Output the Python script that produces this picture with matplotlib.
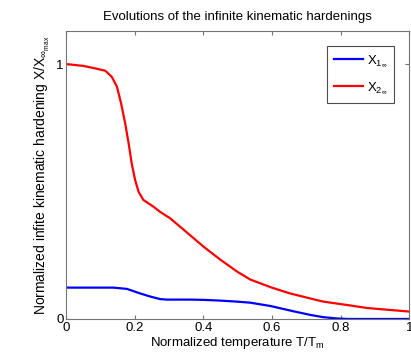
import numpy as np
import matplotlib
matplotlib.use("Agg")
from matplotlib import pyplot as plt

plt.rcParams["font.family"] = ["Liberation Sans", "DejaVu Sans"]
plt.rcParams["mathtext.fontset"] = "custom"
plt.rcParams["mathtext.rm"] = "Liberation Sans"
plt.rcParams["mathtext.it"] = "Liberation Sans"

# normalized temperature T/Tm
t_red = [0.0, 0.05, 0.085, 0.114, 0.133, 0.148, 0.160, 0.172, 0.182, 0.191,
         0.201, 0.211, 0.225, 0.255, 0.274, 0.303, 0.332, 0.40, 0.45, 0.498,
         0.536, 0.595, 0.634, 0.653, 0.731, 0.75, 0.828, 0.877, 1.0]
x2_inf = [1.0, 0.993, 0.983, 0.974, 0.95, 0.911, 0.846, 0.767, 0.689, 0.61,
          0.545, 0.499, 0.467, 0.44, 0.42, 0.395, 0.362, 0.284, 0.232, 0.186,
          0.155, 0.125, 0.108, 0.10, 0.074, 0.068, 0.053, 0.043, 0.029]

t_blue = [0.0, 0.138, 0.177, 0.216, 0.245, 0.274, 0.293, 0.362, 0.40, 0.45,
          0.498, 0.536, 0.595, 0.653, 0.711, 0.75, 0.789, 0.82, 1.0]
x1_inf = [0.123, 0.123, 0.118, 0.10, 0.088, 0.078, 0.076, 0.076, 0.075, 0.072,
          0.068, 0.064, 0.051, 0.033, 0.016, 0.007, 0.002, 0.0, 0.0]

fig = plt.figure(figsize=(4.11, 3.56), dpi=100)
ax = fig.add_axes([0.161, 0.104, 0.835, 0.809])

ax.plot(t_blue, x1_inf, color="#0000ff", lw=1.6, label=r"X$_{1_\infty}$",
        solid_joinstyle="round")
ax.plot(t_red, x2_inf, color="#ff0000", lw=1.6, label=r"X$_{2_\infty}$",
        solid_joinstyle="round")

ax.set_xlim(0, 1)
ax.set_ylim(0, 1.13)
ax.set_xticks([0, 0.2, 0.4, 0.6, 0.8, 1])
ax.set_xticklabels(["0", "0.2", "0.4", "0.6", "0.8", "1"])
ax.set_yticks([0, 1])
ax.set_yticklabels(["0", "1"])
ax.tick_params(direction="in", top=True, right=True, length=3, labelsize=9.5,
               color="0.45", pad=2)
for s in ax.spines.values():
    s.set_color("0.45")

ax.set_title("Evolutions of the infinite kinematic hardenings", fontsize=9.5, pad=8)
ax.set_xlabel(r"Normalized temperature T/T$_{\rm m}$", fontsize=9.5, labelpad=1)
ax.set_ylabel(r"Normalized infite kinematic hardening X/X$_{\infty_{\rm max}}$",
              fontsize=10, labelpad=3)

leg = ax.legend(loc="upper right", fontsize=9.5, fancybox=False, framealpha=1,
                edgecolor="0.3", handlelength=2.2, borderaxespad=1.15,
                handletextpad=0.3, labelspacing=0.9, borderpad=0.5)
leg.get_frame().set_linewidth(0.8)

fig.savefig("out.png", dpi=100)
